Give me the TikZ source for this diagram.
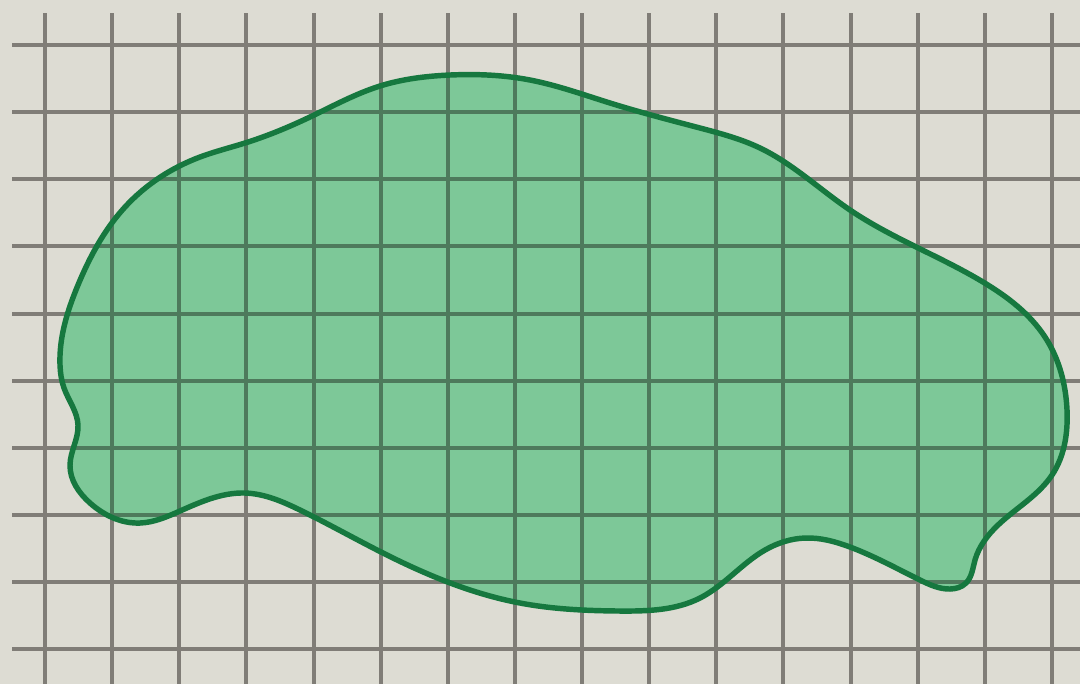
\documentclass[tikz,border=0pt]{standalone}
\usepackage{tikz}
\usetikzlibrary{hobby}
\definecolor{paper}{RGB}{221,220,211}
\definecolor{gridgray}{RGB}{128,125,119}
\definecolor{gridgreen}{RGB}{78,122,92}
\definecolor{blobfill}{RGB}{125,200,152}
\definecolor{blobline}{RGB}{22,120,63}
\def\blob{(60,365) .. (78,285) .. (125,207) .. (200,157) .. (245,143)
    .. (310,117) .. (380,86) .. (450,75) .. (530,80) .. (610,103)
    .. (700,128) .. (760,148) .. (850,210) .. (983,282) .. (1045,337)
    .. (1067,410) .. (1052,475) .. (998,525) .. (975,560) .. (966,583)
    .. (950,589) .. (920,580) .. (850,547) .. (805,538) .. (765,550)
    .. (700,598) .. (620,611) .. (520,603) .. (383,553) .. (300,510)
    .. (245,493) .. (180,511) .. (140,523) .. (90,503) .. (70,465)
    .. (78,425) .. (64,388)}
\def\gridlines#1{
    \foreach \i in {0,...,15}
        \draw[#1] ({45+67.13*\i},13) -- ({45+67.13*\i},684);
    \foreach \j in {0,...,9}
        \draw[#1] (12,{45+67.13*\j}) -- (1080,{45+67.13*\j});
}

\begin{document}
\begin{tikzpicture}[x=0.01cm, y=-0.01cm, use Hobby shortcut]
    \useasboundingbox (0,0) rectangle (1080,684);
    \fill[paper] (0,0) rectangle (1080,684);
    % squares
    \gridlines{gridgray, line width=1.15pt}
    % the blob, grid showing through
    \fill[blobfill, closed=true] \blob;
    \begin{scope}
        \clip[closed=true] \blob;
        \gridlines{gridgreen, line width=1.15pt}
    \end{scope}
    \draw[blobline, line width=1.55pt, closed=true] \blob;
\end{tikzpicture}
\end{document}
